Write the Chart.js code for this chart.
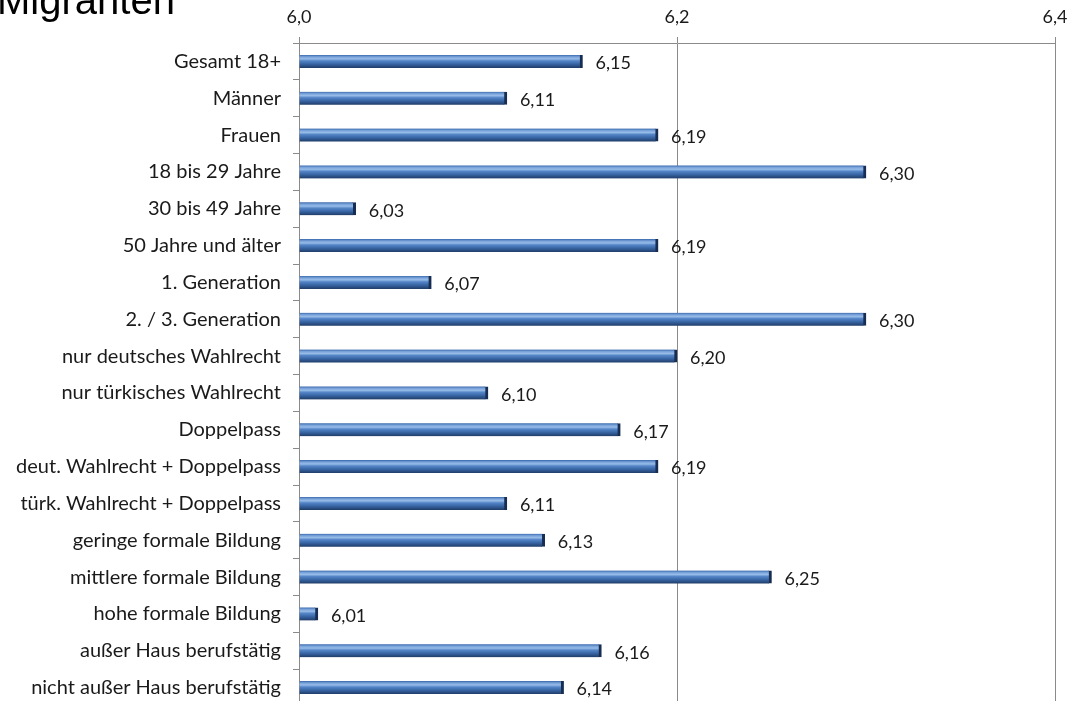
<!DOCTYPE html>
<html>
<head>
<meta charset="utf-8">
<script src="https://cdn.jsdelivr.net/npm/chart.js@4/dist/chart.umd.min.js"></script>
<style>
  html, body { margin: 0; padding: 0; background: #fff; overflow: hidden; width: 1084px; height: 701px; }
  #wrap { position: relative; width: 1084px; height: 706px; }
  #title { position: absolute; left: -3px; top: -20px; font-family: "Liberation Sans", Arial, sans-serif; font-size: 40px; color: #000; white-space: nowrap; line-height: 1; }
  canvas { position: absolute; left: 0; top: 0; }
</style>
</head>
<body>
<div id="wrap">
  <canvas id="c" width="1084" height="706"></canvas>
  <div id="title">Migranten</div>
</div>
<script>
const categories = [
  "Gesamt 18+",
  "Männer",
  "Frauen",
  "18 bis 29 Jahre",
  "30 bis 49 Jahre",
  "50 Jahre und älter",
  "1. Generation",
  "2. / 3. Generation",
  "nur deutsches Wahlrecht",
  "nur türkisches Wahlrecht",
  "Doppelpass",
  "deut. Wahlrecht + Doppelpass",
  "türk. Wahlrecht + Doppelpass",
  "geringe formale Bildung",
  "mittlere formale Bildung",
  "hohe formale Bildung",
  "außer Haus berufstätig",
  "nicht außer Haus berufstätig"
];
const values = [6.15, 6.11, 6.19, 6.30, 6.03, 6.19, 6.07, 6.30, 6.20, 6.10, 6.17, 6.19, 6.11, 6.13, 6.25, 6.01, 6.16, 6.14];
const xMin = 6.0, xMax = 6.4, xStep = 0.2;

const LABEL_FONT = "Lato, 'Open Sans', sans-serif";
const fmt = v => v.toFixed(2).replace('.', ',');
const BAR_H = 13;

const valueLabels = {
  id: 'valueLabels',
  afterDatasetsDraw(chart) {
    const ctx = chart.ctx;
    const meta = chart.getDatasetMeta(0);
    ctx.save();
    ctx.font = "18px " + LABEL_FONT;
    ctx.fillStyle = "#1a1a1a";
    ctx.textAlign = "left";
    ctx.textBaseline = "middle";
    meta.data.forEach((el, i) => {
      ctx.fillText(fmt(values[i]), el.x + 13, el.y + 2);
    });
    ctx.restore();
  }
};

function barGradient(c) {
  const chart = c.chart;
  const ys = chart.scales && chart.scales.y;
  if (!ys || c.dataIndex === undefined) return '#4f81bd';
  const yc = ys.getPixelForValue(c.dataIndex);
  if (!isFinite(yc)) return '#4f81bd';
  const top = yc - BAR_H / 2, bot = yc + BAR_H / 2;
  const g = chart.ctx.createLinearGradient(0, top, 0, bot);
  g.addColorStop(0, '#3a68ab');
  g.addColorStop(0.15, '#78a2da');
  g.addColorStop(0.3, '#98bce8');
  g.addColorStop(0.45, '#5586c8');
  g.addColorStop(0.7, '#3865a4');
  g.addColorStop(1, '#1f3c68');
  return g;
}

new Chart(document.getElementById('c'), {
  type: 'bar',
  data: {
    labels: categories,
    datasets: [{
      data: values,
      base: xMin,
      backgroundColor: barGradient,
      borderColor: '#172d52',
      borderWidth: { top: 0, bottom: 0, left: 0, right: 3 },
      borderSkipped: false,
      barThickness: BAR_H
    }]
  },
  options: {
    indexAxis: 'y',
    responsive: false,
    animation: false,
    layout: { padding: { left: 0, right: 29, top: 0, bottom: 0 } },
    plugins: { legend: { display: false }, tooltip: { enabled: false }, title: { display: false } },
    scales: {
      x: {
        position: 'top',
        min: xMin,
        max: xMax,
        ticks: {
          stepSize: xStep,
          callback: v => v.toFixed(1).replace('.', ','),
          font: { family: LABEL_FONT, size: 18 },
          color: '#1a1a1a',
          padding: 9
        },
        grid: { color: '#8a8a8a', lineWidth: 1, tickLength: 6, drawTicks: true },
        border: { display: true, color: '#8a8a8a' },
        afterFit: s => { s.height = 43; s.paddingLeft = 0; s.paddingRight = 0; }
      },
      y: {
        offset: true,
        ticks: {
          font: { family: LABEL_FONT, size: 20 },
          color: '#1a1a1a',
          padding: 12,
          autoSkip: false
        },
        grid: { display: true, drawOnChartArea: false, color: '#8a8a8a', tickLength: 6, offset: true },
        border: { display: true, color: '#8a8a8a' },
        afterFit: s => { s.width = 299; s.paddingTop = 0; s.paddingBottom = 0; }
      }
    }
  },
  plugins: [valueLabels]
});
</script>
</body>
</html>
